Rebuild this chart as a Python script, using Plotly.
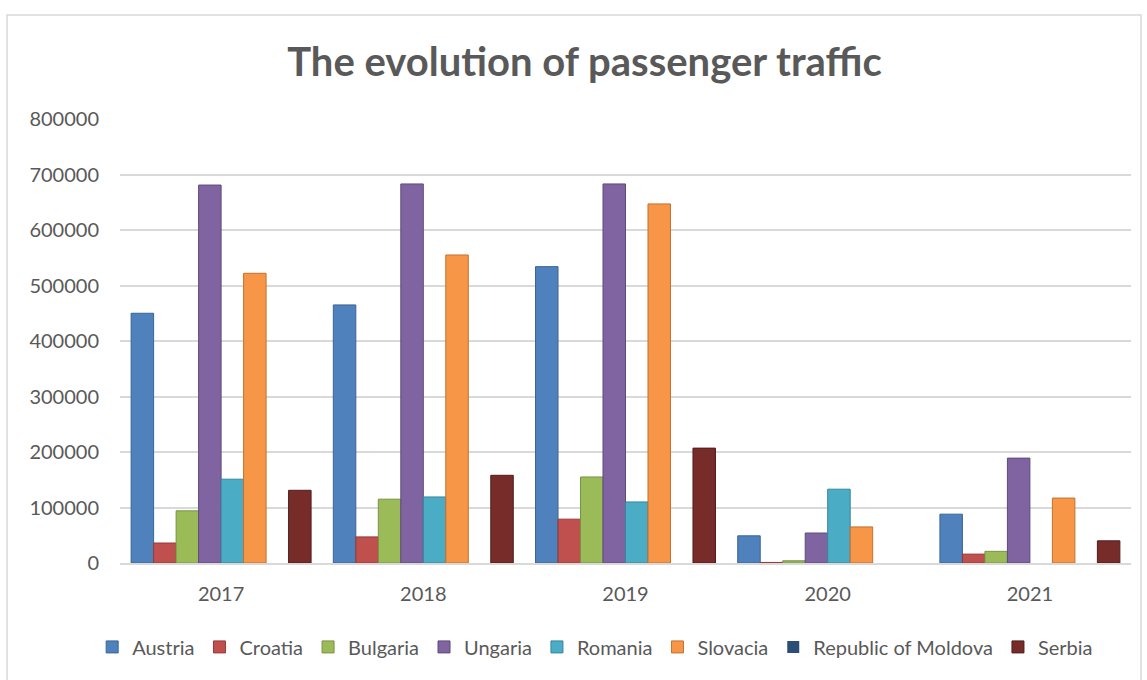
import plotly.graph_objects as go

years = ["2017", "2018", "2019", "2020", "2021"]

austria = [450000, 465000, 534000, 49000, 88000]
croatia = [36000, 47000, 79000, 1000, 16000]
bulgaria = [94000, 115000, 155000, 4000, 21000]
ungaria = [681000, 683000, 683000, 54000, 189000]
romania = [151000, 119000, 110000, 133000, 0]
slovacia = [522000, 555000, 647000, 65000, 117000]
moldova = [0, 0, 0, 0, 0]
serbia = [131000, 158000, 207000, 0, 40000]

series = [
    ("Austria", austria, "#4F81BD", "#3A6496"),
    ("Croatia", croatia, "#C0504D", "#943B39"),
    ("Bulgaria", bulgaria, "#9BBB59", "#789245"),
    ("Ungaria", ungaria, "#8064A2", "#5F4A7A"),
    ("Romania", romania, "#4BACC6", "#35869B"),
    ("Slovacia", slovacia, "#F79646", "#C2722F"),
    ("Republic of Moldova", moldova, "#2C4D75", "#1E3652"),
    ("Serbia", serbia, "#772C2A", "#521D1C"),
]

FONT = "Lato"
GREY = "#595959"

fig = go.Figure()
for name, vals, fill, edge in series:
    # no outline on empty bars so nothing is drawn for zero values
    widths = [1 if v > 0 else 0 for v in vals]
    fig.add_trace(go.Bar(
        name=name, x=years, y=vals,
        marker=dict(color=fill, line=dict(color=edge, width=widths)),
    ))

fig.update_layout(
    width=1147, height=680,
    barmode="group", bargap=0.11, bargroupgap=0.0,
    paper_bgcolor="white", plot_bgcolor="white",
    margin=dict(l=120, r=16, t=119, b=117),
    font=dict(family=FONT, color=GREY, size=20),
    title=dict(
        text="<b>The evolution of passenger traffic</b>",
        x=0.5096, xanchor="center", y=1 - 62 / 680, yanchor="middle",
        font=dict(family=FONT, size=40, color=GREY),
    ),
    legend=dict(
        orientation="h", x=0.47, xanchor="center",
        y=-0.189, yanchor="middle",
        font=dict(family=FONT, size=20, color=GREY),
        itemwidth=30, tracegroupgap=0,
    ),
    shapes=[dict(
        type="rect", xref="paper", yref="paper",
        x0=(7 - 120) / 1011, x1=(1141 - 120) / 1011,
        y0=-(690 - 563) / 444, y1=(563 - 15) / 444,
        line=dict(color="#D9D9D9", width=1.5), fillcolor="rgba(0,0,0,0)",
        layer="below",
    )],
)

fig.update_yaxes(
    range=[0, 800000], dtick=100000, tickformat="d",
    showgrid=True, gridcolor="#D9D9D9", gridwidth=1.5,
    zeroline=False, showline=False,
    ticks="", ticklabelstandoff=20,
    tickfont=dict(family=FONT, size=20, color=GREY),
)
fig.update_xaxes(
    showline=True, linecolor="#D9D9D9", linewidth=1.5,
    ticks="", ticklabelstandoff=12,
    tickfont=dict(family=FONT, size=20, color=GREY),
)

fig.write_html("out.html")
